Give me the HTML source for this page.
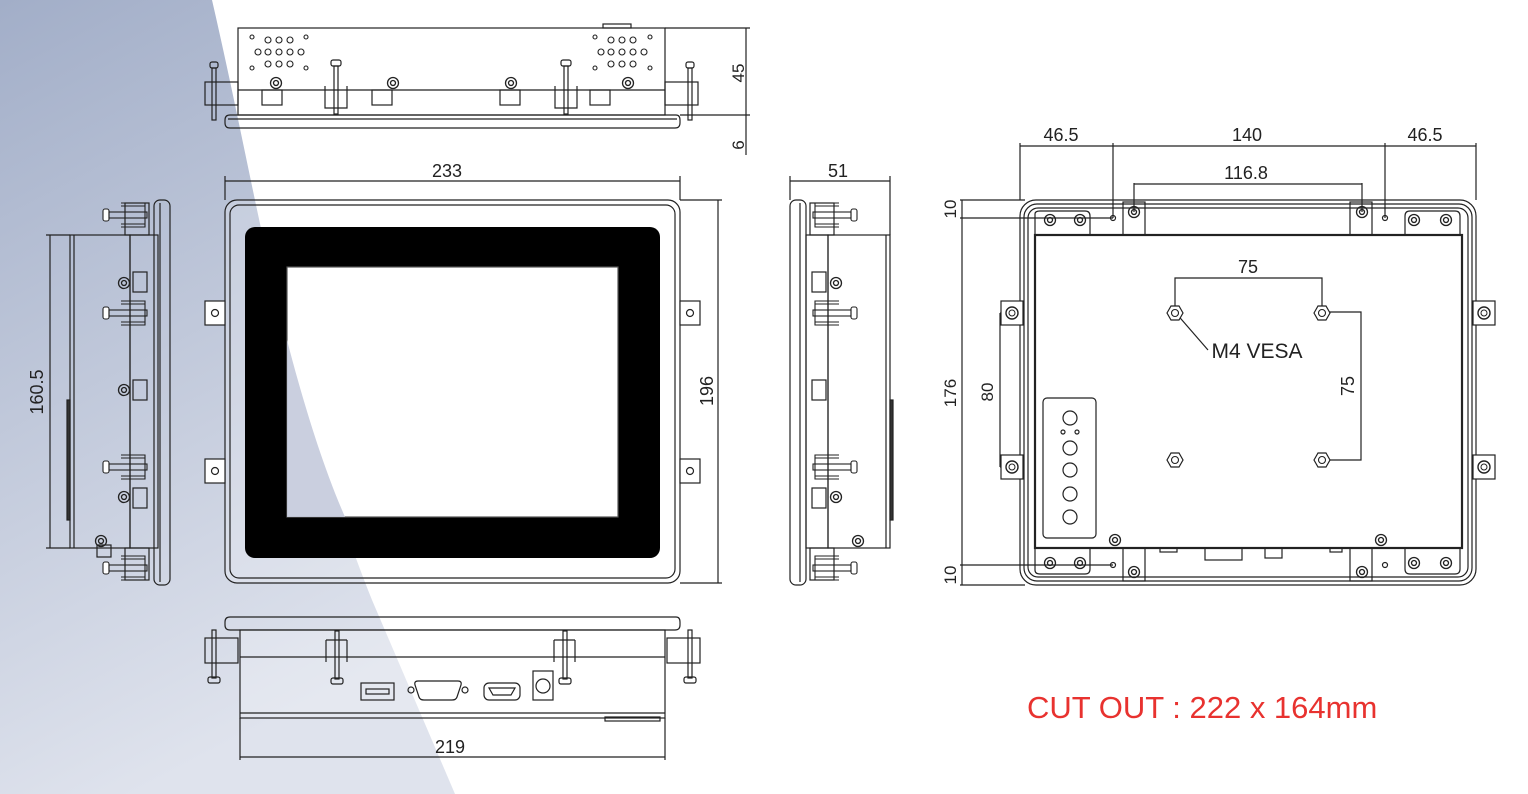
<!DOCTYPE html>
<html><head><meta charset="utf-8"><style>
html,body{margin:0;padding:0;background:#fff;}
svg{display:block;}
text{font-family:"Liberation Sans",sans-serif;fill:#222;}
</style></head><body>
<svg width="1528" height="794" viewBox="0 0 1528 794" xmlns="http://www.w3.org/2000/svg">
<defs>
<linearGradient id="bg" x1="0" y1="0" x2="0.3" y2="1">
<stop offset="0" stop-color="#a2aec8"/><stop offset="1" stop-color="#dfe3ed"/>
</linearGradient>
<g id="scr"><circle r="5.5" fill="none" stroke="#222" stroke-width="1.3"/><circle r="2.5" fill="none" stroke="#222" stroke-width="1.3"/></g>
<g id="hole"><circle r="3.5" fill="none" stroke="#222" stroke-width="1.1"/></g>
<g id="hex"><polygon points="-8,0 -4,-7 4,-7 8,0 4,7 -4,7" fill="#fff" stroke="#222" stroke-width="1.2"/><circle r="3.5" fill="none" stroke="#222" stroke-width="1.1"/></g>
<g id="pinV"><rect x="-6" y="0" width="12" height="6" rx="2" fill="#fff" stroke="#222" stroke-width="1.1"/><rect x="-3" y="6" width="6" height="38" fill="none" stroke="#222" stroke-width="1.1"/><path d="M-12 18 v24 h24 v-24 M-9 18 v24 M9 18 v24" fill="none" stroke="#222" stroke-width="1.1"/></g>
<g id="pinH"><rect x="0" y="-6" width="6" height="12" rx="2" fill="#fff" stroke="#222" stroke-width="1.1"/><rect x="6" y="-3" width="38" height="6" fill="none" stroke="#222" stroke-width="1.1"/><path d="M18 -12 h24 v24 h-24 M18 -9 h24 M18 9 h24" fill="none" stroke="#222" stroke-width="1.1"/></g>
<g id="tab"><rect x="-10" y="0" width="20" height="24" fill="#fff" stroke="#222" stroke-width="1.2"/><circle cx="0" cy="12" r="3.5" fill="none" stroke="#222" stroke-width="1.2"/></g>
<g id="ear"><rect x="-11" y="-12" width="22" height="24" fill="#fff" stroke="#222" stroke-width="1.2"/><circle r="6" fill="none" stroke="#222" stroke-width="1.4"/><circle r="3" fill="none" stroke="#222" stroke-width="1"/></g>
</defs>
<path d="M0 0 L212 0 C235 100 250 180 268 260 C300 400 340 520 372 600 L455 794 L0 794 Z" fill="url(#bg)"/>

<g fill="none" stroke="#222" stroke-width="1.2">
<!-- TOP VIEW -->
<rect x="238" y="28" width="427" height="87" fill="#fff" fill-opacity="0.25"/>
<line x1="238" y1="90" x2="665" y2="90"/>
<path d="M230 115 H676 Q680 115 680 120 V123 Q680 128 675 128 H230 Q225 128 225 123 V120 Q225 115 230 115 Z"/>
<line x1="228" y1="119" x2="677" y2="119"/>
<rect x="603" y="24" width="28" height="4"/>
<rect x="205" y="82" width="33" height="23"/><rect x="665" y="82" width="33" height="23"/>
<rect x="210" y="62" width="8" height="6" rx="2"/><rect x="212" y="68" width="4" height="52"/>
<rect x="686" y="62" width="8" height="6" rx="2"/><rect x="688" y="68" width="4" height="52"/>
<rect x="262" y="90" width="20" height="15"/><rect x="372" y="90" width="20" height="15"/><rect x="500" y="90" width="20" height="15"/><rect x="590" y="90" width="20" height="15"/>
<rect x="331" y="60" width="10" height="6" rx="2"/><rect x="334" y="66" width="4" height="48"/><path d="M325 86 v22 h22 v-22"/>
<rect x="561" y="60" width="10" height="6" rx="2"/><rect x="564" y="66" width="4" height="48"/><path d="M555 86 v22 h22 v-22"/>
<line x1="665" y1="28" x2="750" y2="28"/><line x1="680" y1="115" x2="750" y2="115"/>
<line x1="746" y1="28" x2="746" y2="155"/>
</g>
<g fill="none" stroke="#222" stroke-width="1.1">
<circle cx="252" cy="37" r="2"/><circle cx="306" cy="37" r="2"/><circle cx="252" cy="68" r="2"/><circle cx="306" cy="68" r="2"/>
<circle cx="268" cy="40" r="3"/><circle cx="279" cy="40" r="3"/><circle cx="290" cy="40" r="3"/>
<circle cx="258" cy="52" r="3"/><circle cx="268" cy="52" r="3"/><circle cx="279" cy="52" r="3"/><circle cx="290" cy="52" r="3"/><circle cx="301" cy="52" r="3"/>
<circle cx="268" cy="64" r="3"/><circle cx="279" cy="64" r="3"/><circle cx="290" cy="64" r="3"/>
<circle cx="595" cy="37" r="2"/><circle cx="650" cy="37" r="2"/><circle cx="595" cy="68" r="2"/><circle cx="650" cy="68" r="2"/>
<circle cx="611" cy="40" r="3"/><circle cx="622" cy="40" r="3"/><circle cx="633" cy="40" r="3"/>
<circle cx="601" cy="52" r="3"/><circle cx="611" cy="52" r="3"/><circle cx="622" cy="52" r="3"/><circle cx="633" cy="52" r="3"/><circle cx="644" cy="52" r="3"/>
<circle cx="611" cy="64" r="3"/><circle cx="622" cy="64" r="3"/><circle cx="633" cy="64" r="3"/>
</g>
<use href="#scr" x="276" y="83"/><use href="#scr" x="393" y="83"/><use href="#scr" x="511" y="83"/><use href="#scr" x="628" y="83"/>
<text x="747" y="73" font-size="17" transform="rotate(-90 747 73)" text-anchor="middle" dy="-3">45</text>
<text x="747" y="145" font-size="17" transform="rotate(-90 747 145)" text-anchor="middle" dy="-3">6</text>

<!-- FRONT VIEW -->
<g fill="none" stroke="#222" stroke-width="1.2">
<line x1="225" y1="200" x2="225" y2="176"/><line x1="680" y1="200" x2="680" y2="176"/>
<line x1="225" y1="181" x2="680" y2="181"/>
<rect x="225" y="200" width="455" height="383" rx="12" fill="#fff" fill-opacity="0.2"/>
<rect x="230" y="205" width="445" height="373" rx="9"/>
<line x1="680" y1="200" x2="722" y2="200"/><line x1="680" y1="583" x2="722" y2="583"/>
<line x1="718" y1="200" x2="718" y2="583"/>
</g>
<rect x="245" y="227" width="415" height="331" rx="10" fill="#000"/>
<rect x="287" y="267" width="331" height="250" fill="#fff" stroke="#555" stroke-width="1.2"/>
<path d="M287 267 L287 340 C300 390 320 460 345 517 L287 517 Z" fill="#c4cadb" opacity="0.9"/>
<use href="#tab" x="215" y="301"/><use href="#tab" x="215" y="459"/><use href="#tab" x="690" y="301"/><use href="#tab" x="690" y="459"/>
<text x="447" y="179" font-size="18" text-anchor="middle" dy="-2">233</text>
<text x="708" y="391" font-size="18" transform="rotate(-90 708 391)" text-anchor="middle" dy="5">196</text>

<!-- LEFT SIDE -->
<g fill="none" stroke="#222" stroke-width="1.2">
<rect x="70" y="235" width="60" height="313"/><line x1="74" y1="235" x2="74" y2="548"/>
<rect x="67" y="400" width="3" height="120" fill="#333"/>
<rect x="130" y="235" width="28" height="313"/>
<rect x="154" y="200" width="16" height="385" rx="6"/><line x1="160" y1="203" x2="160" y2="582"/>
<rect x="125" y="203" width="24" height="32"/><rect x="125" y="548" width="24" height="32"/>
<line x1="46" y1="235" x2="70" y2="235"/><line x1="46" y1="548" x2="70" y2="548"/><line x1="50" y1="235" x2="50" y2="548"/>
<rect x="133" y="272" width="14" height="20"/><rect x="133" y="380" width="14" height="20"/><rect x="133" y="488" width="14" height="20"/>
<rect x="97" y="545" width="14" height="12"/>
</g>
<use href="#pinH" x="103" y="215"/><use href="#pinH" x="103" y="568"/>
<use href="#pinH" x="103" y="313"/><use href="#pinH" x="103" y="467"/>
<use href="#scr" x="124" y="283"/><use href="#scr" x="124" y="390"/><use href="#scr" x="124" y="497"/><use href="#scr" x="101" y="541"/>
<text x="45" y="392" font-size="18" transform="rotate(-90 45 392)" text-anchor="middle" dy="-2">160.5</text>

<!-- RIGHT SIDE -->
<g fill="none" stroke="#222" stroke-width="1.2">
<rect x="790" y="200" width="16" height="385" rx="6"/><line x1="800" y1="203" x2="800" y2="582"/>
<rect x="806" y="235" width="22" height="313"/>
<rect x="828" y="235" width="62" height="313"/><line x1="886" y1="235" x2="886" y2="548"/>
<rect x="890" y="400" width="3" height="120" fill="#333"/>
<rect x="810" y="203" width="24" height="32"/><rect x="810" y="548" width="24" height="32"/>
<line x1="790" y1="200" x2="790" y2="176"/><line x1="890" y1="235" x2="890" y2="176"/><line x1="790" y1="181" x2="890" y2="181"/>
<rect x="812" y="272" width="14" height="20"/><rect x="812" y="380" width="14" height="20"/><rect x="812" y="488" width="14" height="20"/>
</g>
<g transform="translate(1662 0) scale(-1 1)"><use href="#pinH" x="805" y="215"/><use href="#pinH" x="805" y="568"/><use href="#pinH" x="805" y="313"/><use href="#pinH" x="805" y="467"/></g>
<use href="#scr" x="836" y="283"/><use href="#scr" x="836" y="497"/><use href="#scr" x="858" y="541"/>
<text x="838" y="179" font-size="18" text-anchor="middle" dy="-2">51</text>

<!-- BOTTOM VIEW -->
<g fill="none" stroke="#222" stroke-width="1.2">
<path d="M230 617 H676 Q680 617 680 622 V625 Q680 630 675 630 H230 Q225 630 225 625 V622 Q225 617 230 617 Z"/>
<rect x="240" y="630" width="425" height="88" fill="#fff" fill-opacity="0.2"/>
<line x1="240" y1="657" x2="665" y2="657"/><line x1="240" y1="713" x2="665" y2="713"/>
<rect x="205" y="638" width="33" height="25"/><rect x="667" y="638" width="33" height="25"/>
<rect x="212" y="630" width="4" height="48"/><rect x="208" y="677" width="12" height="6" rx="2"/>
<rect x="688" y="630" width="4" height="48"/><rect x="684" y="677" width="12" height="6" rx="2"/>
<rect x="335" y="631" width="4" height="48"/><rect x="331" y="678" width="12" height="6" rx="2"/><path d="M326 640 v22 M347 640 v22 M326 640 h21"/>
<rect x="563" y="631" width="4" height="48"/><rect x="559" y="678" width="12" height="6" rx="2"/><path d="M554 640 v22 M575 640 v22 M554 640 h21"/>
<rect x="361" y="683" width="33" height="17"/><rect x="366" y="689" width="23" height="5"/>
<circle cx="411" cy="690" r="3"/><circle cx="465" cy="690" r="3"/>
<path d="M418 681 H458 Q462 681 461 685 L457 697 Q456 700 452 700 H424 Q420 700 419 697 L415 685 Q414 681 418 681 Z"/>
<rect x="484" y="683" width="36" height="17" rx="5"/><path d="M489 688 H515 L511 695 H493 Z"/>
<rect x="533" y="671" width="20" height="29"/><circle cx="543" cy="686" r="7"/>
<rect x="605" y="717" width="55" height="4"/>
<line x1="240" y1="718" x2="240" y2="760"/><line x1="665" y1="718" x2="665" y2="760"/><line x1="240" y1="757" x2="665" y2="757"/>
</g>
<text x="450" y="755" font-size="18" text-anchor="middle" dy="-2">219</text>

<!-- REAR VIEW -->
<g fill="none" stroke="#222" stroke-width="1.2">
<rect x="1020" y="200" width="456" height="385" rx="16"/>
<rect x="1024" y="204" width="448" height="377" rx="13"/>
<rect x="1028" y="208" width="440" height="369" rx="10"/>
<rect x="1035" y="235" width="427" height="313" stroke-width="2.2"/>
<path d="M1035 235 V214 Q1035 211 1040 211 H1085 Q1090 211 1090 216 V235"/>
<path d="M1405 235 V216 Q1405 211 1410 211 H1455 Q1460 211 1460 216 V235"/>
<path d="M1035 548 V570 Q1035 574 1040 574 H1085 Q1090 574 1090 569 V548"/>
<path d="M1405 548 V569 Q1405 574 1410 574 H1455 Q1460 574 1460 569 V548"/>
<rect x="1123" y="202" width="22" height="33"/><rect x="1350" y="202" width="22" height="33"/>
<rect x="1123" y="548" width="22" height="33"/><rect x="1350" y="548" width="22" height="33"/>
<rect x="1043" y="398" width="53" height="140" rx="4"/>
<circle cx="1070" cy="418" r="7"/><circle cx="1063" cy="432" r="2"/><circle cx="1077" cy="432" r="2"/>
<circle cx="1070" cy="448" r="7"/><circle cx="1070" cy="470" r="7"/><circle cx="1070" cy="494" r="7"/><circle cx="1070" cy="517" r="7"/>
<rect x="1205" y="548" width="37" height="12"/><rect x="1265" y="548" width="17" height="10"/><rect x="1160" y="548" width="17" height="4"/><rect x="1330" y="548" width="12" height="4"/>
<!-- dims -->
<line x1="1020" y1="200" x2="1020" y2="143"/><line x1="1476" y1="200" x2="1476" y2="143"/>
<line x1="1113" y1="218" x2="1113" y2="143"/><line x1="1385" y1="218" x2="1385" y2="143"/>
<line x1="1020" y1="146" x2="1476" y2="146"/>
<line x1="1134" y1="212" x2="1134" y2="183"/><line x1="1362" y1="212" x2="1362" y2="183"/><line x1="1134" y1="184" x2="1362" y2="184"/>
<line x1="960" y1="200" x2="1025" y2="200"/><line x1="960" y1="218" x2="1113" y2="218"/>
<line x1="960" y1="565" x2="1113" y2="565"/><line x1="960" y1="585" x2="1025" y2="585"/>
<line x1="962" y1="200" x2="962" y2="585"/>
<line x1="1000" y1="313" x2="1012" y2="313"/><line x1="1000" y1="467" x2="1012" y2="467"/><line x1="1000" y1="313" x2="1000" y2="467"/>
<path d="M1175 312 V278 H1322 V312"/>
<path d="M1322 312 H1361 V460 H1322"/>
<line x1="1175" y1="312" x2="1208" y2="350"/>
</g>
<g fill="none" stroke="#222" stroke-width="1.2">
<circle cx="1113" cy="218" r="2.5"/><circle cx="1385" cy="218" r="2.5"/><circle cx="1113" cy="565" r="2.5"/><circle cx="1385" cy="565" r="2.5"/>
</g>
<use href="#scr" x="1050" y="220"/><use href="#scr" x="1080" y="220"/><use href="#scr" x="1414" y="220"/><use href="#scr" x="1446" y="220"/>
<use href="#scr" x="1050" y="563"/><use href="#scr" x="1080" y="563"/><use href="#scr" x="1414" y="563"/><use href="#scr" x="1446" y="563"/>
<use href="#scr" x="1134" y="212"/><use href="#scr" x="1362" y="212"/><use href="#scr" x="1134" y="572"/><use href="#scr" x="1362" y="572"/>
<use href="#scr" x="1115" y="540"/><use href="#scr" x="1381" y="540"/>
<use href="#ear" x="1012" y="313"/><use href="#ear" x="1012" y="467"/><use href="#ear" x="1484" y="313"/><use href="#ear" x="1484" y="467"/>
<use href="#hex" x="1175" y="313"/><use href="#hex" x="1322" y="313"/><use href="#hex" x="1175" y="460"/><use href="#hex" x="1322" y="460"/>
<text x="1061" y="143" font-size="18" text-anchor="middle" dy="-2">46.5</text>
<text x="1247" y="143" font-size="18" text-anchor="middle" dy="-2">140</text>
<text x="1425" y="143" font-size="18" text-anchor="middle" dy="-2">46.5</text>
<text x="1246" y="181" font-size="18" text-anchor="middle" dy="-2">116.8</text>
<text x="1248" y="275" font-size="18" text-anchor="middle" dy="-2">75</text>
<text x="1257" y="358" font-size="21" text-anchor="middle">M4 VESA</text>
<text x="1355" y="386" font-size="18" transform="rotate(-90 1355 386)" text-anchor="middle" dy="-1">75</text>
<text x="958" y="209" font-size="17" transform="rotate(-90 958 209)" text-anchor="middle" dy="-2">10</text>
<text x="958" y="393" font-size="17" transform="rotate(-90 958 393)" text-anchor="middle" dy="-2">176</text>
<text x="958" y="575" font-size="17" transform="rotate(-90 958 575)" text-anchor="middle" dy="-2">10</text>
<text x="995" y="392" font-size="17" transform="rotate(-90 995 392)" text-anchor="middle" dy="-2">80</text>

<text x="1027" y="718" font-size="31" style="fill:#e8322f">CUT OUT : 222 x 164mm</text>
</svg>
</body></html>
